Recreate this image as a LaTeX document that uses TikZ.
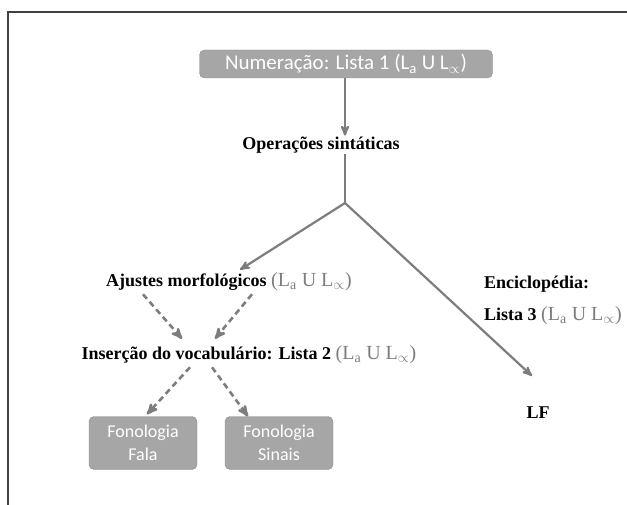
\documentclass[tikz,border=0pt]{standalone}
\usepackage{fontspec}
\setmainfont{Liberation Serif}
\newfontfamily\calibri{Carlito}
\usetikzlibrary{positioning, arrows}
\definecolor{cinza}{RGB}{166,166,166}
\definecolor{cinzaseta}{RGB}{125,125,125}
\newcommand{\cinzaL}{\textcolor{cinzaseta}{\mdseries\fontsize{20}{24}\selectfont (L\textsubscript{a} U L$_{\propto}$)}}
\tikzset{
x=1pt, y=-1pt, % one unit is one pixel of the picture
>=stealth', % arrow heads
caixa/.style={rounded corners=5pt, fill=cinza, draw=cinza!85!black, text=white}, % grey boxes
etapa/.style={font=\bfseries\fontsize{18}{22}\selectfont, inner sep=1pt}, % plain text steps
seta/.style={->, draw=cinzaseta, line width=2.2pt},
tracejada/.style={->, draw=cinzaseta, line width=2.6pt, dash pattern=on 6pt off 4pt},
}

\begin{document}
\begin{tikzpicture}
        \useasboundingbox (0,0) rectangle (627,505);
        \draw[line width=1.3pt, draw=black!75] (627,12) -- (8,12) -- (8,505);

        \node[caixa, minimum width=293pt, minimum height=28pt, font=\calibri\fontsize{21}{24}\selectfont] (numer) at (346,64) {Numeração: Lista 1 (L\textsubscript{a} U L$_{\propto}$)};
        \node[etapa] (ops) at (321,145) {Operações sintáticas};
        \coordinate (split) at (345,203);
        \node[etapa] (ajustes) at (229,282) {Ajustes morfológicos \cinzaL};
        \node[etapa] (insercao) at (249,355) {Inserção do vocabulário: Lista 2 \cinzaL};
        \node[etapa, align=left, anchor=west] (encicl) at (483,300) {Enciclopédia:\\[10pt]Lista 3 \cinzaL};
        \node[etapa] (lf) at (538,413) {LF};
        \node[caixa, align=center, minimum width=108pt, minimum height=53pt, font=\calibri\fontsize{18}{23}\selectfont] (fala) at (143,443) {Fonologia\\Fala};
        \node[caixa, align=center, minimum width=108pt, minimum height=53pt, font=\calibri\fontsize{18}{23}\selectfont] (sinais) at (279,443) {Fonologia\\Sinais};

        \draw[seta] (numer.south -| split) -- (split |- ops.north);
        \draw[seta, -] (split |- ops.south) -- (split);
        \draw[seta] (split) -- ([xshift=11pt, yshift=2pt]ajustes.north);
        \draw[seta] (split) -- ([xshift=-6pt, yshift=30pt]lf.north);
        \draw[tracejada] ([xshift=-86pt, yshift=-2pt]ajustes.south) -- ([xshift=-67pt, yshift=6pt]insercao.north);
        \draw[tracejada] ([xshift=23pt, yshift=-2pt]ajustes.south) -- ([xshift=-34pt, yshift=6pt]insercao.north);
        \draw[tracejada] ([xshift=-59pt, yshift=-2pt]insercao.south) -- ([xshift=4pt, yshift=2pt]fala.north);
        \draw[tracejada] ([xshift=-37pt, yshift=-2pt]insercao.south) -- ([xshift=-31pt]sinais.north);
\end{tikzpicture}
\end{document}
